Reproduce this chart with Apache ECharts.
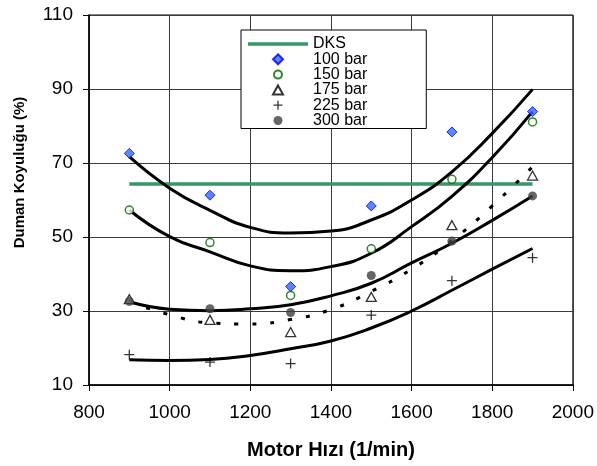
<!DOCTYPE html>
<html><head><meta charset="utf-8">
<script src="https://cdn.jsdelivr.net/npm/echarts@6/dist/echarts.min.js"></script>
<style>html,body{margin:0;padding:0;background:#fff}#c{width:597px;height:466px}</style>
</head><body><div id="c"></div>
<script>
// Measured points (Motor speed, smoke opacity %)
const rpm = [900, 1100, 1300, 1500, 1700, 1900];
const bar100 = [72.6, 61.3, 36.6, 58.4, 78.4, 83.9];
const bar150 = [57.3, 48.5, 34.2, 46.8, 65.6, 81.1];
const bar175 = [33.2, 27.6, 24.3, 33.8, 53.2, 66.6];
const bar225 = [18.2, 16.2, 15.8, 28.9, 38.2, 44.4];
const bar300 = [32.6, 30.6, 29.6, 39.6, 48.9, 61.1];

// DKS reference line
const dksX = [900, 1900];
const dksY = [64.3, 64.3];

// Trend curves
const fitX = [900, 1000, 1100, 1200, 1300, 1400, 1500, 1600, 1700, 1800, 1900];
const fit100 = [71.7, 63.2, 57.2, 52.6, 51.1, 51.6, 54.6, 60.0, 67.6, 78.0, 89.9];
const fit150 = [57.3, 50.1, 46.0, 42.2, 40.9, 42.0, 45.6, 52.8, 61.0, 71.5, 83.9];
const fit175 = [32.5, 29.0, 26.8, 26.5, 27.7, 30.4, 35.3, 41.3, 49.0, 58.4, 69.0];
const fit225 = [16.8, 16.6, 16.9, 18.0, 19.8, 21.9, 25.4, 30.0, 35.6, 41.3, 46.9];
const fit300 = [32.5, 30.5, 30.1, 30.6, 31.7, 34.1, 37.5, 43.0, 48.3, 54.5, 61.1];

// Axis ticks
const xTicks = {min: 800, max: 2000, interval: 200};
const yTicks = {min: 10, max: 110, interval: 20};

const legendNames = ['DKS', '100 bar', '150 bar', '175 bar', '225 bar', '300 bar'];

const FONT = '"Liberation Sans", Arial, sans-serif';
const pairs = (xs, ys) => xs.map((x, i) => [x, ys[i]]);
const PLUS = 'path://M0,4.35H10V5.65H0Z M4.35,0H5.65V10H4.35Z';

// Legend icons drawn in a 60x10 box (corner moveTos fix the box so the glyph keeps its shape)
const BOX = 'path://M0,0 M60,10 ';
const legendIcons = [
  BOX + 'M0,3.3 H60 V6.7 H0 Z',
  BOX + 'M30,0 L35,5 L30,10 L25,5 Z',
  BOX + 'M26,5 A4,4 0 1 1 34,5 A4,4 0 1 1 26,5 Z',
  BOX + 'M30,0.5 L35,9.5 L25,9.5 Z',
  BOX + 'M25.5,4.35 H34.5 V5.65 H25.5 Z M29.35,0.5 H30.65 V9.5 H29.35 Z',
  BOX + 'M25.5,5 A4.5,4.5 0 1 1 34.5,5 A4.5,4.5 0 1 1 25.5,5 Z'
];

const fitLine = (name, ys, dashed) => ({
  name: name, type: 'line', data: pairs(fitX, ys), smooth: true,
  symbol: 'none', showSymbol: false, silent: true, z: 3,
  lineStyle: {color: '#000', width: 3, type: dashed ? [4, 14] : 'solid'}
});

const chart = echarts.init(document.getElementById('c'), null, {renderer: 'canvas'});
chart.setOption({
  animation: false,
  grid: {left: 89, right: 22, top: 15, bottom: 81, show: true, borderColor: '#000', borderWidth: 1},
  xAxis: {
    type: 'value', min: xTicks.min, max: xTicks.max, interval: xTicks.interval,
    axisLine: {onZero: false, lineStyle: {color: '#000', width: 1.5}},
    axisTick: {show: true, length: 6, lineStyle: {color: '#000'}},
    axisLabel: {margin: 18, fontSize: 19, color: '#000', fontFamily: FONT, formatter: v => String(v)},
    splitLine: {show: true, lineStyle: {color: '#3a3a3a', width: 1}},
    name: 'Motor Hızı (1/min)', nameLocation: 'middle', nameGap: 55,
    nameTextStyle: {fontSize: 20, fontWeight: 'bold', color: '#000', fontFamily: FONT}
  },
  yAxis: {
    type: 'value', min: yTicks.min, max: yTicks.max, interval: yTicks.interval,
    axisLine: {show: true, onZero: false, lineStyle: {color: '#000', width: 1.5}},
    axisTick: {show: true, length: 6, lineStyle: {color: '#000'}},
    axisLabel: {margin: 16, fontSize: 19, color: '#000', fontFamily: FONT, formatter: v => String(v)},
    splitLine: {show: true, lineStyle: {color: '#3a3a3a', width: 1}}
  },
  legend: {
    orient: 'vertical', left: 241, top: 30, itemWidth: 60, itemHeight: 10, itemGap: -0.7,
    padding: [6, 59, 0, 6], borderColor: '#000', borderWidth: 1, backgroundColor: '#fff',
    selectedMode: false,
    data: legendNames.map((n, i) => ({name: n, icon: legendIcons[i]})),
    textStyle: {fontSize: 16, color: '#000', fontFamily: FONT}
  },
  graphic: [{
    type: 'text', x: 19.5, y: 172.5, rotation: Math.PI / 2,
    style: {text: 'Duman Koyuluğu (%)', font: 'bold 15px "Liberation Sans", Arial, sans-serif',
      fill: '#000', align: 'center', verticalAlign: 'middle'}
  }],
  series: [
    {name: 'DKS', type: 'line', data: pairs(dksX, dksY), symbol: 'none', z: 2,
     lineStyle: {color: '#339966', width: 3.5}, itemStyle: {color: '#339966'}},
    fitLine('fit100', fit100, false),
    fitLine('fit150', fit150, false),
    fitLine('fit175', fit175, true),
    fitLine('fit225', fit225, false),
    fitLine('fit300', fit300, false),
    {name: '100 bar', type: 'scatter', data: pairs(rpm, bar100), symbol: 'diamond', symbolSize: 10, z: 4,
     itemStyle: {color: '#3366FF', borderColor: '#0000EE', borderWidth: 1}},
    {name: '150 bar', type: 'scatter', data: pairs(rpm, bar150), symbol: 'circle', symbolSize: 8, z: 4,
     itemStyle: {color: '#fff', borderColor: '#006600', borderWidth: 1.5}},
    {name: '175 bar', type: 'scatter', data: pairs(rpm, bar175), symbol: 'triangle', symbolSize: [10, 9], z: 4,
     itemStyle: {color: '#fff', borderColor: '#000', borderWidth: 1.3}},
    {name: '225 bar', type: 'scatter', data: pairs(rpm, bar225), symbol: PLUS, symbolSize: 10, z: 4,
     itemStyle: {color: '#000'}},
    {name: '300 bar', type: 'scatter', data: pairs(rpm, bar300), symbol: 'circle', symbolSize: 9, z: 4,
     itemStyle: {color: '#404040'}}
  ]
});
</script>
</body></html>
